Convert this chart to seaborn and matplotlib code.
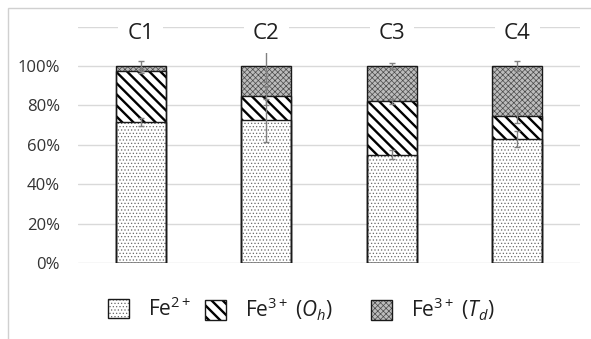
import matplotlib
matplotlib.use("Agg")
import matplotlib.pyplot as plt
from matplotlib.patches import Rectangle, Patch
from matplotlib.legend_handler import HandlerTuple
import numpy as np
import pandas as pd
import seaborn as sns

# ---- data (percent of total Fe) ----
samples = ["C1", "C2", "C3", "C4"]
fe2 = [71.5, 72.5, 55.0, 63.0]
fe3_oh = [26.0, 12.5, 27.0, 11.5]
fe3_td = [2.5, 15.0, 18.0, 25.5]
err_fe2 = [2.0, 11.0, 2.2, 4.0]
err_oh = [1.0, 5.0, 1.5, 3.5]
err_td = [2.5, 8.0, 1.7, 2.7]
series_labels = ["Fe$^{2+}$", "Fe$^{3+}$ ($O_h$)", "Fe$^{3+}$ ($T_d$)"]
ytick_values = [0, 20, 40, 60, 80, 100, 120]
ytick_labels = ["0%", "20%", "40%", "60%", "80%", "100%", ""]

sns.set_theme(style="white")
plt.rcParams["font.family"] = ["Open Sans", "DejaVu Sans"]
plt.rcParams["mathtext.fontset"] = "custom"
plt.rcParams["mathtext.rm"] = "Open Sans"
plt.rcParams["mathtext.it"] = "Open Sans:italic"
plt.rcParams["mathtext.bf"] = "Open Sans:bold"

W, H = 591, 339
fig = plt.figure(figsize=(W / 100, H / 100), dpi=100)
ax = fig.add_axes([78 / W, 1 - 263 / H, (580 - 78) / W, (263 - 26.6) / H])

low = np.array(fe2)
mid = low + np.array(fe3_oh)
top = mid + np.array(fe3_td)
df = pd.DataFrame({"sample": samples, "low": low, "mid": mid, "top": top})

styles = {
    "top": dict(face="#bcbcbc", hatch="xxxxxx", hcolor="#4a4a4a", hlw=0.5),
    "mid": dict(face="white", hatch="\\\\\\", hcolor="black", hlw=1.7),
    "low": dict(face="white", hatch=".....", hcolor="#6a6a6a", hlw=0.5),
}

bar_patches = []
for col in ["top", "mid", "low"]:
    st = styles[col]
    n0 = len(ax.patches)
    with plt.rc_context({"hatch.linewidth": st["hlw"]}):
        sns.barplot(data=df, x="sample", y=col, ax=ax, width=0.4,
                    color=st["face"], saturation=1, errorbar=None,
                    edgecolor=st["hcolor"], linewidth=0, hatch=st["hatch"],
                    zorder=2)
    for p in ax.patches[n0:]:
        if hasattr(p, "set_hatch_linewidth"):
            p.set_hatch_linewidth(st["hlw"])
        bar_patches.append(p)

# black outline around every segment
for p in bar_patches:
    ax.add_patch(Rectangle(p.get_xy(), p.get_width(), p.get_height(),
                           fill=False, edgecolor="#1a1a1a", linewidth=1.0,
                           zorder=3))

# error bars at each stacked boundary
xpos = np.arange(len(samples))
for yv, ev in [(low, err_fe2), (mid, err_oh), (top, err_td)]:
    ax.errorbar(xpos, yv, yerr=ev, fmt="none", ecolor="#808080",
                elinewidth=1.0, capsize=2.5, capthick=1.0, zorder=4)

# sample names above the bars
for i, s in enumerate(samples):
    ax.text(i, 113.7, s, ha="center", va="baseline", fontsize=16,
            color="#1f1f1f", zorder=5,
            bbox=dict(boxstyle="square,pad=0.4", fc="white", ec="none"))

ax.set_ylim(0, 120)
ax.set_xlim(-0.5, 3.5)
ax.set_yticks(ytick_values)
ax.set_yticklabels(ytick_labels, fontsize=12, color="#333333")
ax.set_xticks(xpos)
ax.set_xticklabels([])
ax.set_xlabel("")
ax.set_ylabel("")
ax.tick_params(axis="both", length=0)
ax.tick_params(axis="y", pad=13)
ax.grid(axis="y", color="#d9d9d9", linewidth=1.0, zorder=0)
ax.grid(axis="x", visible=False)
ax.set_axisbelow(True)
for sp in ax.spines.values():
    sp.set_visible(False)

# chart frame (left and top edges)
fig.add_artist(Rectangle((8.3 / W, -0.2), 1.5, 1 - 7.5 / H + 0.2,
                         transform=fig.transFigure, fill=False,
                         edgecolor="#d0d0d0", linewidth=1.0))

# legend entries
legend_x = [108, 205, 371]
for (col, lab, lx) in zip(["low", "mid", "top"], series_labels, legend_x):
    st = styles[col]
    hp = Patch(facecolor=st["face"], edgecolor=st["hcolor"], linewidth=0,
               hatch=st["hatch"])
    if hasattr(hp, "set_hatch_linewidth"):
        hp.set_hatch_linewidth(st["hlw"])
    op = Patch(fill=False, edgecolor="#1a1a1a", linewidth=1.0)
    with plt.rc_context({"hatch.linewidth": st["hlw"]}):
        leg = fig.legend(handles=[(hp, op)], labels=[lab],
                         handler_map={tuple: HandlerTuple(ndivide=1, pad=0)},
                         loc="center left",
                         bbox_to_anchor=(lx / W, 1 - 309 / H),
                         frameon=False, fontsize=15, handlelength=1.0,
                         handleheight=1.05, handletextpad=0.9, borderpad=0,
                         borderaxespad=0, labelcolor="#1f1f1f")

fig.savefig("out.png", dpi=100)
